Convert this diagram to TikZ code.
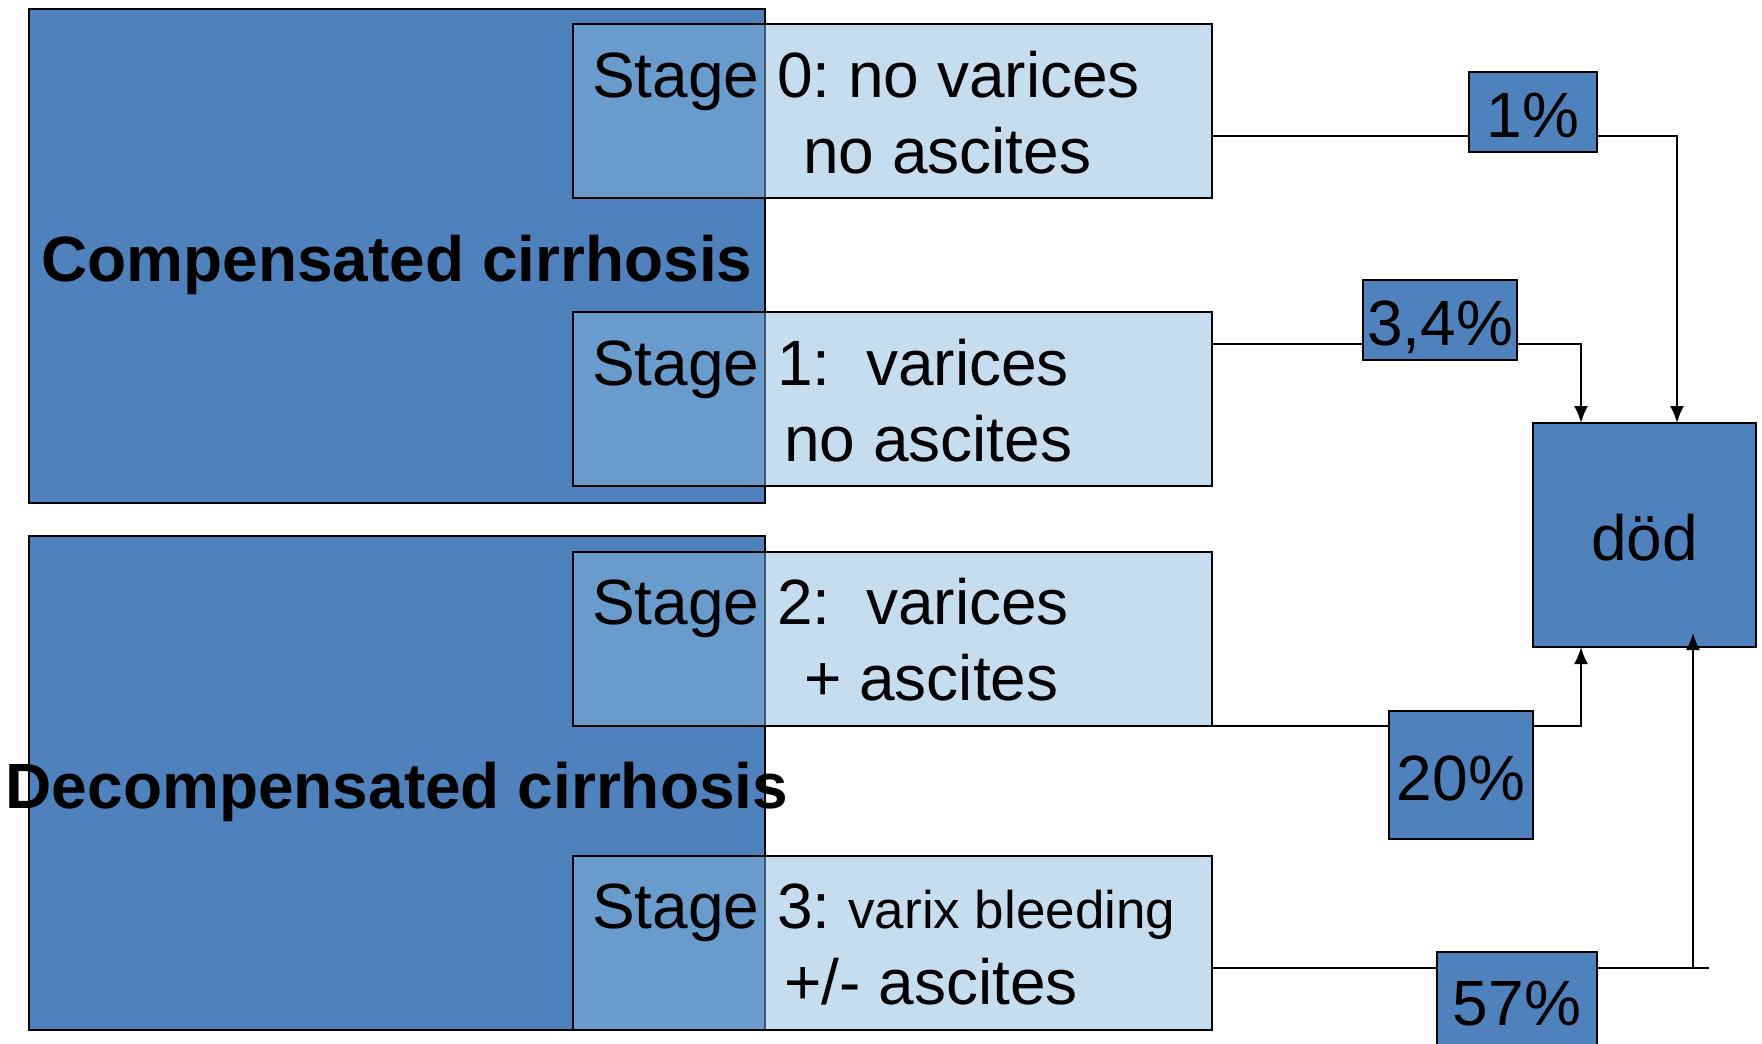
\documentclass[tikz,border=0pt]{standalone}
\usepackage{fontspec}
\setmainfont{Liberation Sans}
\usetikzlibrary{arrows.meta,calc}
\definecolor{boxblue}{RGB}{79,129,189}
\definecolor{stagefill}{RGB}{136,184,224}
\frenchspacing
\begin{document}
\begin{tikzpicture}[x=1pt,y=-1pt,
  bigbox/.style={draw=black, line width=2.5pt, fill=boxblue, inner sep=0pt, outer sep=0pt,
    minimum width=736pt, minimum height=494pt},
  bigtext/.style={inner sep=0pt, font=\fontsize{64}{76}\selectfont\bfseries,
    text height=63pt, text depth=13pt},
  stagebox/.style={draw=black, line width=2.5pt, fill=stagefill, fill opacity=0.48,
    inner sep=0pt, outer sep=0pt, minimum width=639pt, minimum height=174pt},
  stagetext/.style={anchor=base west, inner sep=0pt, font=\fontsize{64}{76}\selectfont},
  pbox/.style={draw=black, line width=2.5pt, fill=boxblue, inner sep=0pt, outer sep=0pt,
    font=\fontsize{64}{76}\selectfont, text height=63pt, text depth=13pt},
  conn/.style={draw=black, line width=2pt},
  arr/.style={-{Latex[length=17pt,width=14pt]}}
]
\useasboundingbox (0,0) rectangle (1762,1044);

% group boxes
\node[bigbox] (comp) at (397,256) {};
\node[bigbox] (decomp) at (397,783) {};
\node[bigtext] (comptext) at (comp.center) {Compensated cirrhosis};
\node[bigtext] (decomptext) at (decomp.center) {Decompensated cirrhosis};

% stage boxes
\node[stagebox] (s0) at (892.5,111) {};
\node[stagebox] (s1) at (892.5,399) {};
\node[stagebox] (s2) at (892.5,639) {};
\node[stagebox] (s3) at (892.5,943) {};

\node[stagetext] (t0a) at (592,97) {Stage 0: no varices};
\node[stagetext] (t0b) at (803,173) {no ascites};
\node[stagetext] (t1a) at (592,385) {Stage 1:\ \ varices};
\node[stagetext] (t1b) at (784,461) {no ascites};
\node[stagetext] (t2a) at (592,624) {Stage 2:\ \ varices};
\node[stagetext] (t2b) at (804,700) {+ ascites};
\node[stagetext] (t3a) at (592,928) {Stage 3: {\fontsize{53}{62}\selectfont varix bleeding}};
\node[stagetext] (t3b) at (784,1004) {+/- ascites};

% outcome boxes
\node[pbox, minimum width=128pt, minimum height=80pt] (p1) at (1533,112) {1\%};
\node[pbox, minimum width=154pt, minimum height=80pt] (p34) at (1440,320) {3,4\%};
\node[pbox, minimum width=144pt, minimum height=128pt] (p20) at (1461,775) {20\%};
\node[pbox, minimum width=160pt, minimum height=96pt] (p57) at (1517,1000) {57\%};
\node[pbox, minimum width=223pt, minimum height=224pt] (dod) at (1644.5,535) {död};

% helper coordinates
\coordinate (y0) at (0,136);
\coordinate (y1) at (0,344);
\coordinate (y3) at (0,968);
\coordinate (x0) at (1677,0);
\coordinate (x1) at (1581,0);
\coordinate (x3) at (1693,0);
\coordinate (e3) at (1709,968);

% connectors
\draw[conn] (s0.east |- y0) -- (p1.west |- y0);
\draw[conn,arr] (p1.east |- y0) -| (x0 |- dod.north);

\draw[conn] (s1.east |- y1) -- (p34.west |- y1);
\draw[conn,arr] (p34.east |- y1) -| (x1 |- dod.north);

\draw[conn] (s2.south east) -- (p20.west |- s2.south);
\draw[conn,arr] (p20.east |- s2.south) -| (x1 |- dod.south);

\draw[conn] (s3.east |- y3) -- (p57.west |- y3);
\draw[conn] (p57.east |- y3) -- (e3);
\draw[conn,arr] (x3 |- y3) -- ($(x3 |- dod.south)+(0,-14)$);
\end{tikzpicture}
\end{document}
